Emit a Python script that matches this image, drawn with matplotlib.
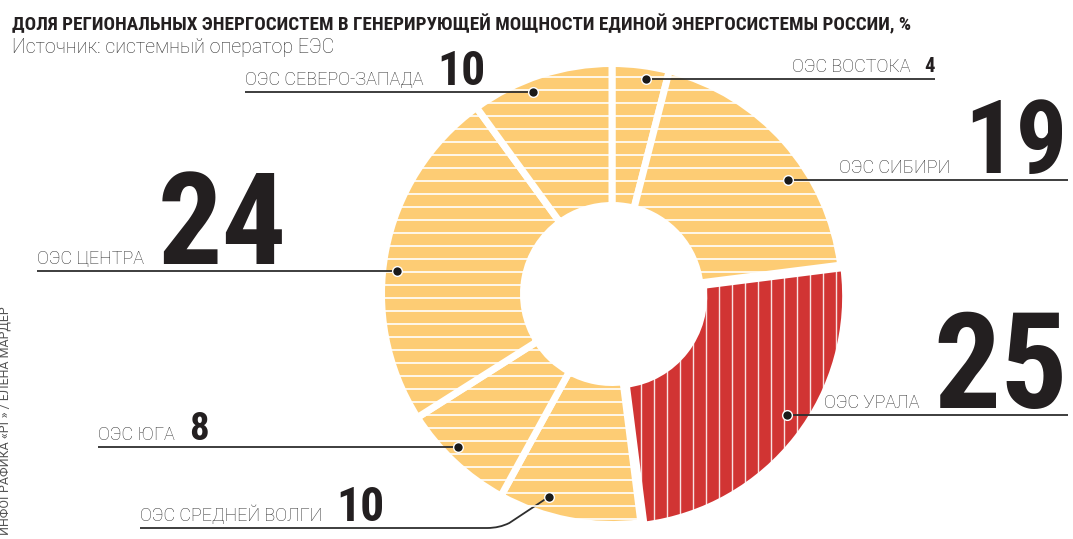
import numpy as np
import matplotlib
matplotlib.use("Agg")
import matplotlib.pyplot as plt
from matplotlib import font_manager as fm
from matplotlib.patches import Wedge
from matplotlib.collections import LineCollection
from matplotlib.path import Path
from matplotlib.patches import PathPatch

# data
regions = ["ОЭС ВОСТОКА", "ОЭС СИБИРИ", "ОЭС УРАЛА", "ОЭС СРЕДНЕЙ ВОЛГИ",
           "ОЭС ЮГА", "ОЭС ЦЕНТРА", "ОЭС СЕВЕРО-ЗАПАДА"]
shares = [4, 19, 25, 10, 8, 24, 10]
highlight = "ОЭС УРАЛА"

title = "ДОЛЯ РЕГИОНАЛЬНЫХ ЭНЕРГОСИСТЕМ В ГЕНЕРИРУЮЩЕЙ МОЩНОСТИ ЕДИНОЙ ЭНЕРГОСИСТЕМЫ РОССИИ, %"
source = "Источник: системный оператор ЕЭС"
credit = "ИНФОГРАФИКА «РГ» / ЕЛЕНА МАРДЕР"

# layout (pixels, y down)
W, H = 1073, 539
cx, cy = 612, 294
r_out, r_in = 227, 92
gap = 7
explode = 4
anchor_deg = [9.0, 57.1, 124.7, 197.2, 225.2, 276.1, 338.6]
anchor_r = [218, 210, 213, 212, 217, 216, 217]
side = ["right", "right", "right", "left", "left", "left", "left"]
line_end = [935, 1068, 1068, 140, 98, 37, 245]
num_cap = [16, 79, 103, 37, 30, 99, 37]

YELLOW = "#FDCC74"
RED = "#D13433"
INK = "#231F20"
GREY = "#2e2e2e"

names = {f.name for f in fm.fontManager.ttflist}
narrow = next((n for n in ["Roboto Condensed", "Liberation Sans Narrow",
                           "Open Sans Condensed", "DejaVu Sans"] if n in names), "DejaVu Sans")
light = "Roboto" if "Roboto" in names else "DejaVu Sans"

fig = plt.figure(figsize=(W / 100, H / 100), dpi=100)
ax = fig.add_axes([0, 0, 1, 1])
ax.set_xlim(0, W)
ax.set_ylim(H, 0)
ax.axis("off")

# donut
total = sum(shares)
start = 0.0
for name, v in zip(regions, shares):
    a1 = start / total * 360
    a2 = (start + v) / total * 360
    start += v
    ox, oy = cx, cy
    if name == highlight:
        m = np.radians((a1 + a2) / 2)
        ox += explode * np.sin(m)
        oy -= explode * np.cos(m)
    col = RED if name == highlight else YELLOW
    w = Wedge((ox, oy), r_out + gap / 2, a1 - 90, a2 - 90,
              width=(r_out - r_in) + gap, facecolor=col,
              edgecolor="white", linewidth=gap * 0.72)
    ax.add_patch(w)
    if name == highlight:
        xs = np.arange(cx - r_out + 8.7, cx + r_out + 20, 13)
        segs = [[(x, 0), (x, H)] for x in xs]
        lc = LineCollection(segs, colors="white", linewidths=1.0, alpha=0.85)
    else:
        ys = np.arange(12, H, 13)
        segs = [[(0, y), (W, y)] for y in ys]
        lc = LineCollection(segs, colors="white", linewidths=1.2)
    ax.add_collection(lc)
    lc.set_clip_path(w)

fig.canvas.draw()
rend = fig.canvas.get_renderer()

# leaders, labels, numbers
for i, (name, v) in enumerate(zip(regions, shares)):
    a = np.radians(anchor_deg[i])
    dx = cx + anchor_r[i] * np.sin(a)
    dy = cy - anchor_r[i] * np.cos(a)
    ly = dy
    if name == "ОЭС СРЕДНЕЙ ВОЛГИ":
        ly = 528
        verts = [(dx, dy), (dx - 40, ly - 5), (dx - 50, ly), (dx - 62, ly), (line_end[i], ly)]
        codes = [Path.MOVETO, Path.LINETO, Path.CURVE3, Path.CURVE3, Path.LINETO]
        ax.add_patch(PathPatch(Path(verts, codes), facecolor="none", edgecolor=GREY, lw=1.3))
    else:
        ax.plot([dx, line_end[i]], [ly, ly], color=GREY, lw=1.3, solid_capstyle="butt")
    ax.plot(dx, dy, "o", ms=7, mfc="#1a1a1a", mec="white", mew=1)

    base = ly - 7
    fs_num = num_cap[i] * 0.93
    if side[i] == "right":
        t_num = ax.text(line_end[i], base, str(v), ha="right", va="baseline",
                        fontsize=fs_num, fontweight="bold", family=narrow, color=INK)
        ext = t_num.get_window_extent(rend)
        ax.text(ext.x0 - 14, base, name, ha="right", va="baseline",
                fontsize=13, fontweight="light", family=light, color=GREY)
    else:
        t_lab = ax.text(line_end[i], base, name, ha="left", va="baseline",
                        fontsize=13, fontweight="light", family=light, color=GREY)
        ext = t_lab.get_window_extent(rend)
        ax.text(ext.x1 + 14, base, str(v), ha="left", va="baseline",
                fontsize=fs_num, fontweight="bold", family=narrow, color=INK)

# title and source
t = ax.text(12, 30, title, ha="left", va="baseline", fontsize=14,
            fontweight="bold", family=narrow, color=INK)
ext = t.get_window_extent(rend)
t.set_fontsize(14 * 903 / ext.width)
s = ax.text(12, 53, source, ha="left", va="baseline", fontsize=13,
            fontweight="light", family=light, color=GREY)
ext = s.get_window_extent(rend)
s.set_fontsize(13 * 320 / ext.width)
ax.text(5, 535, credit, ha="center", va="bottom", rotation=90,
        fontsize=9, family=light, color="#555555")

fig.savefig("out.png", dpi=100)
